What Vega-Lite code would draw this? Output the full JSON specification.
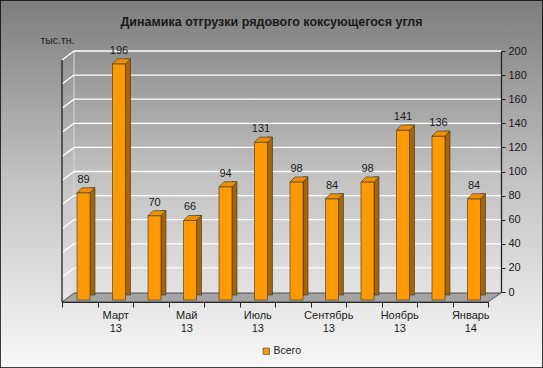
{
  "$schema": "https://vega.github.io/schema/vega-lite/v6.json",
  "width": 543,
  "height": 368,
  "padding": 0,
  "autosize": {"type": "none"},
  "background": "#ffffff",
  "view": {
    "fill": {"gradient": "linear", "x1": 0, "y1": 0, "x2": 0, "y2": 1,
      "stops": [{"offset": 0, "color": "#7d7d7d"}, {"offset": 0.5, "color": "#c4c4c4"}, {"offset": 1, "color": "#f8f8f8"}]},
    "stroke": "#000000",
    "strokeWidth": 1.5
  },
  "title": {
    "text": "Динамика отгрузки рядового коксующегося угля",
    "font": "Liberation Sans",
    "fontSize": 12.5,
    "fontWeight": "bold",
    "color": "#1a1a1a",
    "anchor": "middle",
    "frame": "group",
    "baseline": "alphabetic",
    "offset": -25,
    "dy": 13
  },
  "datasets": {
    "bars": [
      {"m": "Февраль 13", "v": 89},
      {"m": "Март 13", "v": 196},
      {"m": "Апрель 13", "v": 70},
      {"m": "Май 13", "v": 66},
      {"m": "Июнь 13", "v": 94},
      {"m": "Июль 13", "v": 131},
      {"m": "Август 13", "v": 98},
      {"m": "Сентябрь 13", "v": 84},
      {"m": "Октябрь 13", "v": 98},
      {"m": "Ноябрь 13", "v": 141},
      {"m": "Декабрь 13", "v": 136},
      {"m": "Январь 14", "v": 84}
    ],
    "grid": [{"g": 20}, {"g": 40}, {"g": 60}, {"g": 80}, {"g": 100}, {"g": 120}, {"g": 140}, {"g": 160}, {"g": 180}, {"g": 200}],
    "one": [{"k": "frame"}]
  },
  "resolve": {"axis": {"x": "independent", "y": "independent"}},
  "layer": [
    {
      "data": {"name": "one"},
      "mark": {"type": "point", "shape": "M -17.75 10 L 408.25 10 L 421.25 1 L -5.75 1 Z", "size": 4, "filled": true, "fill": "#a3a3a3", "stroke": "#333333", "strokeWidth": 0.8, "opacity": 1},
      "encoding": {
        "x": {"datum": "Февраль 13", "type": "nominal",
          "scale": {"type": "band", "domain": ["Февраль 13", "Март 13", "Апрель 13", "Май 13", "Июнь 13", "Июль 13", "Август 13", "Сентябрь 13", "Октябрь 13", "Ноябрь 13", "Декабрь 13", "Январь 14"], "range": [62, 488], "paddingInner": 0, "paddingOuter": 0},
          "axis": {"orient": "bottom", "offset": -66, "title": null, "tickBand": "extent", "tickSize": 5, "labelAngle": 0, "labelPadding": 2, "labelLineHeight": 13, "labelOverlap": false, "domainColor": "#222222", "tickColor": "#222222", "domainWidth": 1, "labelExpr": "indexof(['Март 13','Май 13','Июль 13','Сентябрь 13','Ноябрь 13','Январь 14'], datum.value) >= 0 ? split(datum.value, ' ') : ''"}},
        "y": {"datum": 0, "type": "quantitative",
          "scale": {"domain": [0, 200], "range": [292, 51], "nice": false, "zero": true},
          "axis": {"orient": "right", "offset": -42, "values": [0, 20, 40, 60, 80, 100, 120, 140, 160, 180, 200], "grid": false, "tickSize": 4, "labelPadding": 3, "domainColor": "#222222", "tickColor": "#222222", "domainWidth": 1.3,
            "title": "тыс.тн.", "titleAngle": 0, "titleX": -444, "titleY": 40, "titleAlign": "center", "titleBaseline": "middle", "titleFontWeight": "normal", "titleFontSize": 10.5, "titleFont": "Liberation Sans", "titleColor": "#1a1a1a"}}
      }
    },
    {
      "data": {"name": "one"},
      "mark": {"type": "rule", "color": "#d8d8d8", "strokeWidth": 1, "xOffset": 12},
      "encoding": {
        "x": {"datum": "Февраль 13", "bandPosition": 0, "axis": null},
        "y": {"datum": 0, "type": "quantitative", "axis": null},
        "y2": {"datum": 200}
      }
    },
    {
      "data": {"name": "grid"},
      "mark": {"type": "rule", "color": "#ffffff", "strokeWidth": 1.3, "xOffset": 12, "x2Offset": 13},
      "encoding": {
        "x": {"datum": "Февраль 13", "bandPosition": 0, "axis": null},
        "x2": {"datum": "Январь 14", "bandPosition": 1},
        "y": {"field": "g", "type": "quantitative", "axis": null}
      }
    },
    {
      "data": {"name": "grid"},
      "mark": {"type": "rule", "color": "#ffffff", "strokeWidth": 1.3, "xOffset": 12, "y2Offset": 9},
      "encoding": {
        "x": {"datum": "Февраль 13", "bandPosition": 0, "axis": null},
        "x2": {"datum": "Февраль 13", "bandPosition": 0},
        "y": {"field": "g", "type": "quantitative", "axis": null},
        "y2": {"field": "g"}
      }
    },
    {
      "data": {"name": "one"},
      "mark": {"type": "rule", "color": "#222222", "strokeWidth": 1.3, "yOffset": 9, "y2Offset": 10},
      "encoding": {
        "x": {"datum": "Февраль 13", "bandPosition": 0, "axis": null},
        "y": {"datum": 200, "type": "quantitative", "axis": null},
        "y2": {"datum": 0}
      }
    },
    {
      "data": {"name": "bars"},
      "mark": {"type": "bar", "width": 5, "xOffset": 12.75, "yOffset": 3, "y2Offset": 6, "color": "#a86400", "stroke": "#333333", "strokeWidth": 0.6},
      "encoding": {
        "x": {"field": "m", "type": "nominal", "axis": null},
        "y": {"field": "v", "type": "quantitative", "axis": null}
      }
    },
    {
      "data": {"name": "bars"},
      "mark": {"type": "bar", "width": 13, "xOffset": 3.75, "yOffset": 8, "y2Offset": 8, "stroke": "#333333", "strokeWidth": 0.6},
      "encoding": {
        "x": {"field": "m", "type": "nominal", "axis": null},
        "y": {"field": "v", "type": "quantitative", "axis": null},
        "color": {"datum": "Всего", "type": "nominal", "scale": {"range": ["#ff9900"]},
          "legend": {"orient": "none", "legendX": 261, "legendY": 346, "title": null, "symbolType": "square", "symbolSize": 40, "symbolStrokeColor": "#333333", "symbolStrokeWidth": 0.6, "labelFontSize": 10.5, "labelFont": "Liberation Sans", "labelColor": "#1a1a1a", "labelOffset": 2, "padding": 0}}
      }
    },
    {
      "data": {"name": "bars"},
      "mark": {"type": "point", "shape": "M -2.75 0 L 10.25 0 L 15.25 -5 L 2.25 -5 Z", "size": 4, "filled": true, "yOffset": 8, "fill": "#f09000", "stroke": "#333333", "strokeWidth": 0.6, "opacity": 1},
      "encoding": {
        "x": {"field": "m", "type": "nominal", "axis": null},
        "y": {"field": "v", "type": "quantitative", "axis": null}
      }
    },
    {
      "data": {"name": "bars"},
      "mark": {"type": "text", "xOffset": 3.75, "yOffset": -2, "baseline": "alphabetic", "align": "center", "font": "Liberation Sans", "fontSize": 11, "color": "#1a1a1a"},
      "encoding": {
        "x": {"field": "m", "type": "nominal", "axis": null},
        "y": {"field": "v", "type": "quantitative", "axis": null},
        "text": {"field": "v", "type": "quantitative"}
      }
    }
  ],
  "config": {
    "font": "Liberation Sans",
    "axis": {"labelFont": "Liberation Sans", "labelFontSize": 11, "labelColor": "#1a1a1a"},
    "legend": {"labelFont": "Liberation Sans"}
  }
}
